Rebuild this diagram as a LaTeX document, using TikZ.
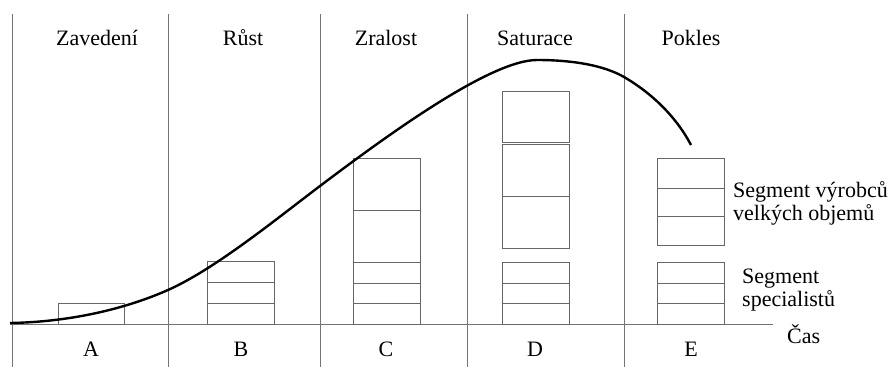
\documentclass[tikz,border=0pt]{standalone}
\usepackage{fontspec}
\setmainfont{Liberation Serif}
\begin{document}
\begin{tikzpicture}[x=1pt,y=-1pt,
  grid/.style={draw=black!55,line width=0.7pt},
  segbox/.style={draw=black!60,line width=0.9pt},
  curve/.style={draw=black,line width=2.4pt},
  lbl/.style={font=\fontsize{22}{25}\selectfont,inner sep=0pt,anchor=base},
  lblw/.style={font=\fontsize{22}{25}\selectfont,inner sep=0pt,anchor=base west}]
\useasboundingbox (0,0) rectangle (896,367);
% vertical separators
\foreach \x/\n in {12/v0,168/v1,320/v2,467/v3,624/v4}{
  \coordinate (\n t) at (\x,14);
  \coordinate (\n b) at (\x,367);
  \draw[grid] (\n t) -- (\n b);
}
% time axis
\coordinate (ax0) at (10,324);
\coordinate (ax1) at (773,324);
\draw[grid] (ax0) -- (ax1);
% headers
\node[lbl] (hA) at (97,45) {Zavedení};
\node[lbl] (hB) at (243,45) {Růst};
\node[lbl] (hC) at (386,45) {Zralost};
\node[lbl] (hD) at (535,45) {Saturace};
\node[lbl] (hE) at (691,45) {Pokles};
% bottom labels
\node[lbl] (lA) at (91,356) {A};
\node[lbl] (lB) at (241,356) {B};
\node[lbl] (lC) at (386,356) {C};
\node[lbl] (lD) at (535,356) {D};
\node[lbl] (lE) at (691,356) {E};
\node[lblw] (cas) at (787,343) {Čas};
% right labels
\node[lblw] (sv1) at (733,197) {Segment výrobců};
\node[lblw] (sv2) at (733,220) {velkých objemů};
\node[lblw] (ss1) at (742,283) {Segment};
\node[lblw] (ss2) at (742,306) {specialistů};
% boxes A
\draw[segbox] (58,303) rectangle (124,324);
% boxes B
\draw[segbox] (207,261) rectangle (274,324);
\draw[segbox] (207,282) -- (274,282) (207,303) -- (274,303);
% boxes C
\draw[segbox] (353,158) rectangle (420,324);
\draw[segbox] (353,210) -- (420,210) (353,262) -- (420,262)
  (353,283) -- (420,283) (353,303) -- (420,303);
% boxes D
\draw[segbox] (502,91) rectangle (569,142);
\draw[segbox] (502,144) rectangle (569,248);
\draw[segbox] (502,196) -- (569,196);
\draw[segbox] (502,262) rectangle (569,324);
\draw[segbox] (502,283) -- (569,283) (502,303) -- (569,303);
% boxes E
\draw[segbox] (657,158) rectangle (724,245);
\draw[segbox] (657,188) -- (724,188) (657,216) -- (724,216);
\draw[segbox] (657,262) rectangle (724,324);
\draw[segbox] (657,283) -- (724,283) (657,303) -- (724,303);
% life-cycle curve
\coordinate (c0) at (10,323);
\coordinate (c1) at (168,290);
\coordinate (c2) at (320,186);
\coordinate (c3) at (537,60);
\coordinate (c4) at (624,77);
\coordinate (c5) at (691,145);
\draw[curve] (c0) .. controls (70,322) and (125,309) .. (c1)
  .. controls (215,269) and (275,220) .. (c2)
  .. controls (385,137) and (490,60) .. (c3)
  .. controls (575,60) and (605,66) .. (c4)
  .. controls (655,95) and (678,120) .. (c5);
\end{tikzpicture}
\end{document}
